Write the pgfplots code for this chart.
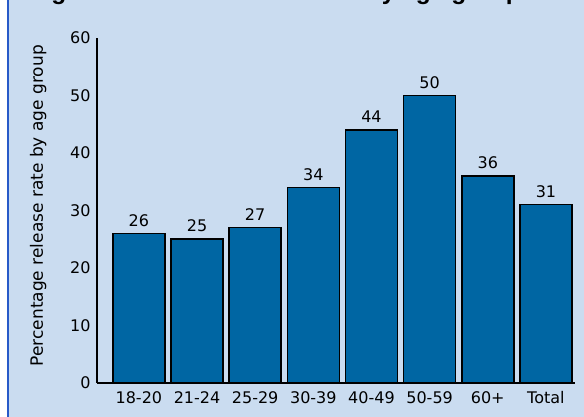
\documentclass[border=0pt]{standalone}
\usepackage{fontspec}
\setmainfont{DejaVu Sans}
\newfontfamily\titlefont{Liberation Sans}
\usepackage{pgfplots}
\pgfplotsset{compat=1.18}
\definecolor{bg}{RGB}{202,220,240}
\definecolor{barblue}{RGB}{0,102,163}
\definecolor{edgeblue}{RGB}{40,90,200}
\begin{document}
\begin{tikzpicture}[x=1pt,y=1pt]
\useasboundingbox (0,0) rectangle (584,417);
\fill[bg] (0,0) rectangle (584,417);
\fill[white] (0,0) rectangle (7,417);
\draw[edgeblue, line width=1.5pt] (7.75,0) -- (7.75,417);
\node[anchor=base east, inner sep=0pt, font=\titlefont\bfseries\fontsize{24.5}{28}\selectfont] at (521,417.8) {Figure 3: Parole release rate by age group};
\begin{axis}[
 at={(97pt,34pt)}, anchor=south west,
 scale only axis, width=478pt, height=345pt,
 xmin=-0.72, xmax=7.5, ymin=0, ymax=60,
 axis lines=left, axis line style={-, line width=1.5pt, black},
 ytick={0,10,...,60}, xtick=data,
 xticklabels={18-20,21-24,25-29,30-39,40-49,50-59,60+,Total},
 major tick length=0pt,
 tick label style={font=\fontsize{16}{18}\selectfont},
 xticklabel style={yshift=-5pt},
 yticklabel style={xshift=-3pt},
 /pgf/number format/assume math mode=true,
 ylabel={Percentage release rate by age group},
 ylabel style={at={(axis description cs:-0.123,0.514)}, anchor=center, font=\fontsize{17}{19}\selectfont},
 ybar, bar width=52pt,
 nodes near coords, nodes near coords style={font=\fontsize{16}{18}\selectfont, black, yshift=3pt},
 clip=false,
]
\addplot[fill=barblue, draw=black, line width=1.5pt] coordinates {(0,26) (1,25) (2,27) (3,34) (4,44) (5,50) (6,36) (7,31)};
\end{axis}
\end{tikzpicture}
\end{document}
